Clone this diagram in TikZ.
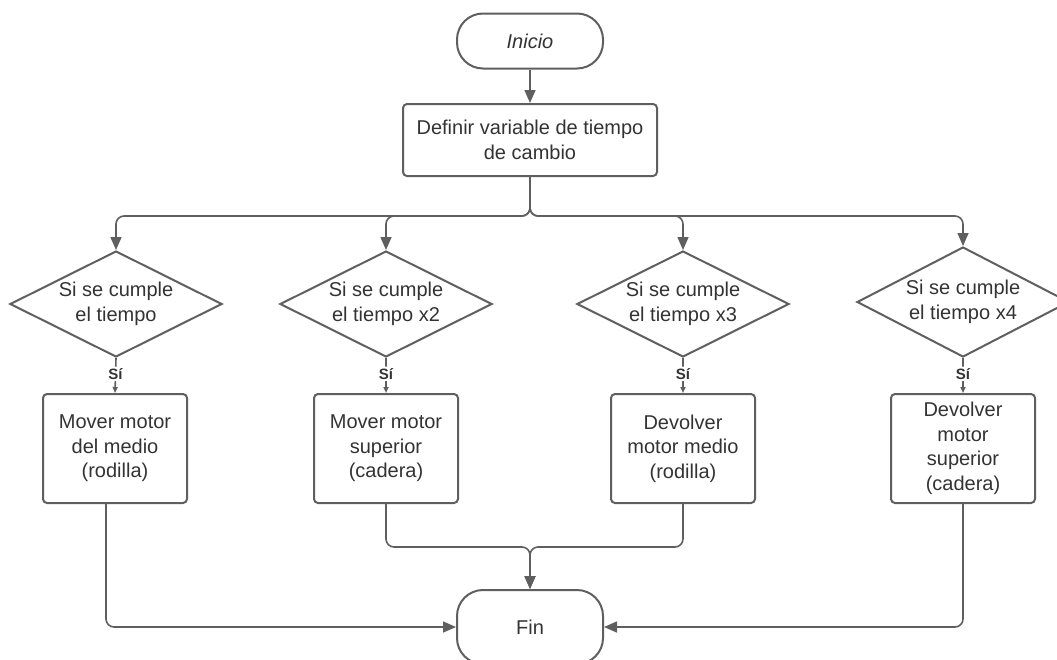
\documentclass[tikz,border=0pt]{standalone}
\usepackage{fontspec}
\setmainfont{Liberation Sans}
\usetikzlibrary{shapes.geometric,arrows.meta}
\definecolor{edge}{HTML}{5F5F5F}
\definecolor{ink}{HTML}{333333}
\begin{document}
\begin{tikzpicture}[x=1pt,y=-1pt,
  base/.style={draw=edge, line width=2pt, text=ink, fill=white,
    font=\fontsize{20}{24.5}\selectfont, align=center, inner sep=0pt},
  term/.style={base, rectangle, rounded corners=26pt, minimum width=146pt, minimum height=55pt},
  proc/.style={base, rectangle, rounded corners=4pt, minimum width=144pt, minimum height=109pt},
  cond/.style={base, diamond, aspect=2, minimum width=212pt, minimum height=106pt},
  conn/.style={draw=edge, line width=1.6pt, rounded corners=8pt},
  arr/.style={conn, -{Triangle[length=13pt,width=11pt]}},
  yes/.style={conn, -{Triangle[length=6pt,width=5pt]}},
  yeslbl/.style={fill=white, text=ink, font=\fontsize{15}{17}\selectfont\bfseries, inner sep=1.5pt}
]
\useasboundingbox (0,0) rectangle (1057,659);
\clip (0,0) rectangle (1057,659);

% start and setup
\node[term] (start) at (530,41) {\itshape Inicio};
\node[proc, minimum width=254pt, minimum height=72pt] (def) at (530,140)
  {Definir variable de tiempo\\de cambio};

% time checks
\node[cond] (d1) at (116,304) {Si se cumple\\el tiempo};
\node[cond] (d2) at (386,304) {Si se cumple\\el tiempo x2};
\node[cond] (d3) at (683,304) {Si se cumple\\el tiempo x3};
\node[cond, minimum height=110pt] (d4) at (963,302) {Si se cumple\\el tiempo x4};

% motor actions
\node[proc] (b1) at (115,448.5) {Mover motor\\del medio\\(rodilla)};
\node[proc] (b2) at (386,448.5) {Mover motor\\superior\\(cadera)};
\node[proc] (b3) at (683,448.5) {Devolver\\motor medio\\(rodilla)};
\node[proc] (b4) at (963,448.5) {Devolver\\motor\\superior\\(cadera)};

% end
\node[term, minimum height=74pt] (fin) at (530,627) {Fin};

% connectors
\draw[arr] (start) -- (def);
\coordinate (split) at (530,216);
\foreach \d in {d1,d2,d3,d4}
  \draw[arr] (def.south) -- (split) -| (\d.north);

\foreach \d/\b in {d1/b1,d2/b2,d3/b3,d4/b4}
  \draw[yes] (\d.south) -- node[yeslbl, pos=0.45] {Sí} (\b.north);

\coordinate (b1out) at (106,503);
\draw[arr] (b1out) |- (fin.west);
\draw[arr] (b4.south) |- (fin.east);
\coordinate (join) at (530,547);
\draw[arr] (b2.south) |- (join) -- (fin.north);
\draw[arr] (b3.south) |- (join) -- (fin.north);
\end{tikzpicture}
\end{document}
